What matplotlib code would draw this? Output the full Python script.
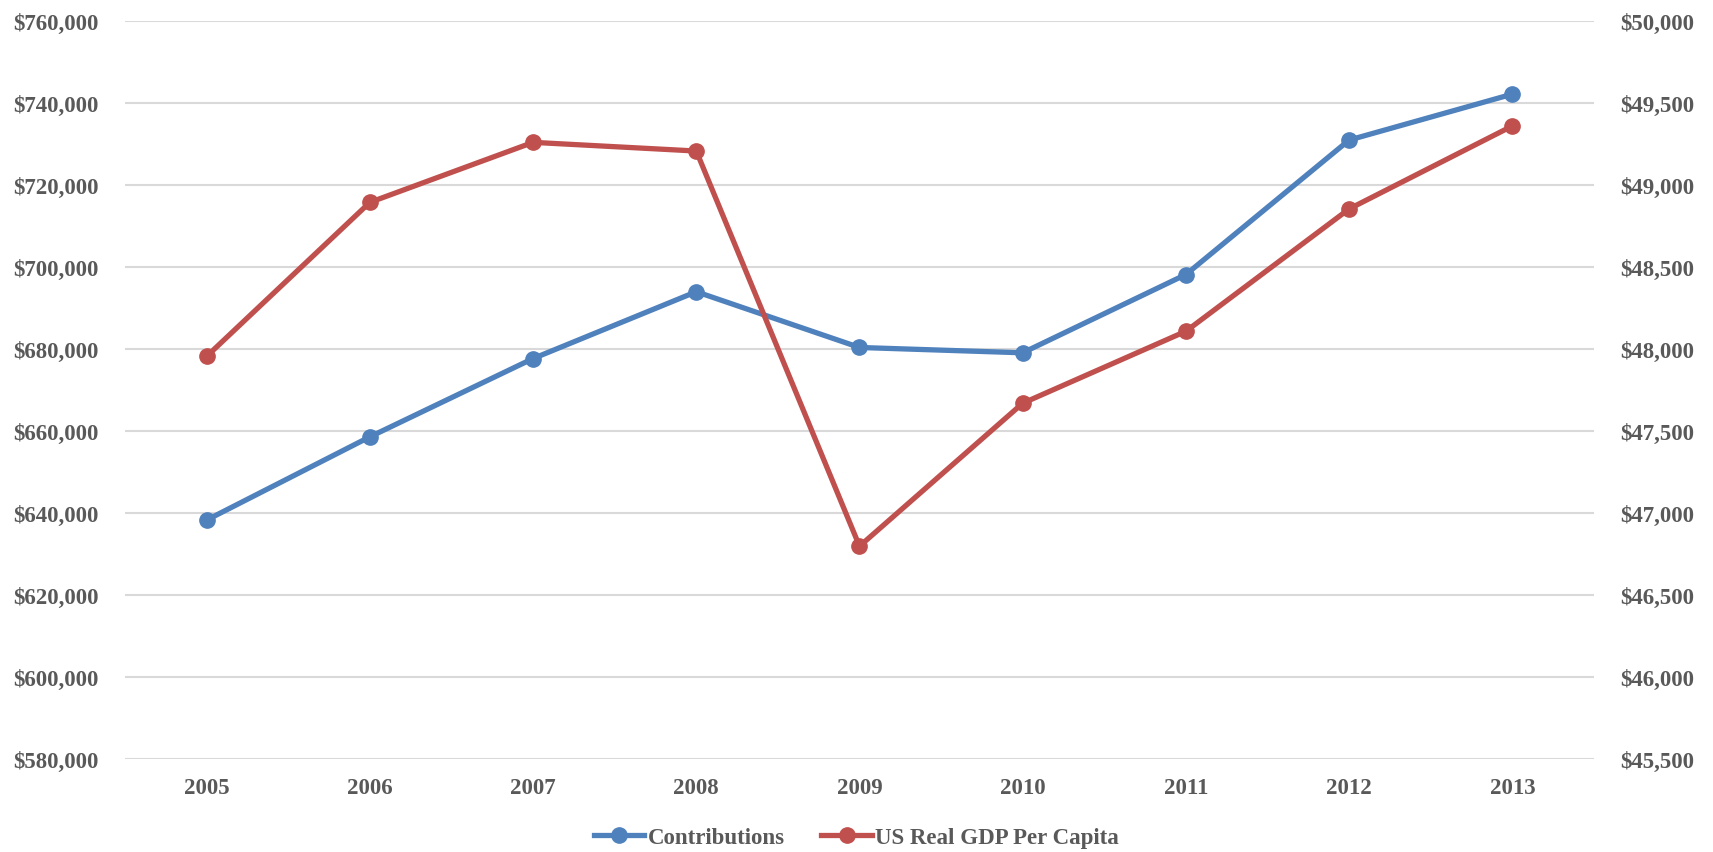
import matplotlib
matplotlib.use("Agg")
import matplotlib.pyplot as plt
from matplotlib.ticker import FuncFormatter, MultipleLocator
from matplotlib.lines import Line2D

years = ["2005", "2006", "2007", "2008", "2009", "2010", "2011", "2012", "2013"]
contributions = [638300, 658600, 677700, 694000, 680400, 679100, 698200, 731000, 742200]
gdp_per_capita = [47956, 48895, 49261, 49208, 46798, 47670, 48109, 48855, 49361]

blue = "#4F81BD"
red = "#C0504D"
txt = "#595959"
plt.rcParams['font.family'] = ['Liberation Serif', 'DejaVu Serif']
plt.rcParams['font.weight'] = 'bold'

fig = plt.figure(figsize=(17.13, 8.53), dpi=100)
ax = fig.add_axes([0.073, 0.109, 0.8575, 0.865])
ax2 = ax.twinx()

x = list(range(len(years)))
ax.plot(x, contributions, color=blue, lw=3.8, marker='o', ms=11, zorder=3, solid_capstyle='round')
ax2.plot(x, gdp_per_capita, color=red, lw=3.8, marker='o', ms=11, zorder=3, solid_capstyle='round')

ax.set_xlim(-0.5, len(years) - 0.5)
ax.set_ylim(580000, 760000)
ax2.set_ylim(45500, 50000)
ax.yaxis.set_major_locator(MultipleLocator(20000))
ax2.yaxis.set_major_locator(MultipleLocator(500))
ax.yaxis.set_major_formatter(FuncFormatter(lambda v, p: f"${v:,.0f}"))
ax2.yaxis.set_major_formatter(FuncFormatter(lambda v, p: f"${v:,.0f}"))
ax.set_xticks(x)
ax.set_xticklabels(years)

ax.grid(axis='y', color='#D9D9D9', lw=1.5)
ax.set_axisbelow(True)
for a in (ax, ax2):
    for s in a.spines.values():
        s.set_visible(False)
    a.tick_params(length=0, labelsize=16.5, colors=txt)
ax.tick_params(axis='y', pad=19)
ax2.tick_params(axis='y', pad=19)
ax.tick_params(axis='x', pad=13)

handles = [Line2D([0], [0], color=blue, lw=3.8, marker='o', ms=11),
           Line2D([0], [0], color=red, lw=3.8, marker='o', ms=11)]
fig.legend(handles, ["Contributions", "US Real GDP Per Capita"], loc='center',
           bbox_to_anchor=(0.5, 15 / 853), ncol=2, frameon=False, fontsize=16.5,
           labelcolor=txt, handlelength=2.2, handletextpad=0.15, columnspacing=1.6)

fig.savefig("out.png", dpi=100)
